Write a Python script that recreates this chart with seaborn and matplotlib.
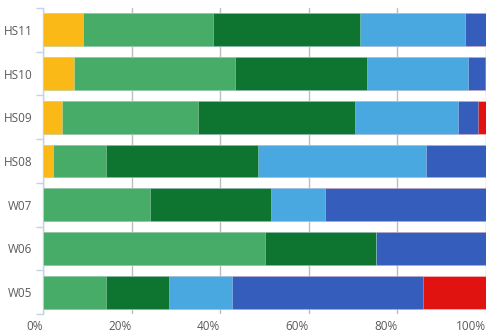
import numpy as np
import pandas as pd
import matplotlib
matplotlib.use("Agg")
import matplotlib.pyplot as plt
import seaborn as sns

# Share of each group per release (percent)
releases = ["HS11", "HS10", "HS09", "HS08", "W07", "W06", "W05"]
group_a = [9.0, 6.9, 4.2, 2.3, 0.0, 0.0, 0.0]
group_b = [29.3, 36.4, 30.9, 11.9, 24.2, 50.0, 14.2]
group_c = [33.3, 29.8, 35.3, 34.4, 27.2, 25.1, 14.2]
group_d = [23.6, 22.9, 23.2, 37.8, 12.2, 0.0, 14.3]
group_e = [4.8, 3.7, 4.5, 13.6, 36.4, 24.9, 43.0]
group_f = [0.0, 0.3, 1.9, 0.0, 0.0, 0.0, 14.3]

series_names = ["A", "B", "C", "D", "E", "F"]
series_values = [group_a, group_b, group_c, group_d, group_e, group_f]
colors = ["#FBB917", "#46AC67", "#0D752F", "#4AA8E0", "#345DBC", "#E11311"]
x_ticks = [0, 20, 40, 60, 80, 100]

df = pd.DataFrame({"release": releases})
for name, vals in zip(series_names, series_values):
    df[name] = vals
cum = df[series_names].cumsum(axis=1)

sns.set_theme(style="white")
plt.rcParams["font.family"] = ["Open Sans", "DejaVu Sans"]

fig = plt.figure(figsize=(4.95, 3.33), dpi=100)
ax = fig.add_axes([43 / 495, 19 / 333, 443 / 495, 306 / 333])

# stacked bars: draw cumulative totals from the outermost segment inwards
for name, color in reversed(list(zip(series_names, colors))):
    sns.barplot(
        x=cum[name], y=df["release"], order=releases, orient="h",
        color=color, width=0.75, ax=ax, saturation=1,
        edgecolor=(1, 1, 1, 0.35), linewidth=0.6, zorder=3,
    )

ax.set_xlim(0, 100)
ax.set_ylim(len(releases) - 0.5, -0.5)
ax.set_xlabel("")
ax.set_ylabel("")

ax.set_xticks(x_ticks)
ax.set_xticklabels([f"{t}%" for t in x_ticks], ha="right")
ax.xaxis.grid(True, color="#BDBDBD", linewidth=1.0, zorder=0)
ax.yaxis.grid(False)
ax.set_axisbelow(True)

for side in ["top", "right", "bottom"]:
    ax.spines[side].set_visible(False)
ax.spines["left"].set_color("#C5D3E3")
ax.spines["left"].set_linewidth(1.0)

ax.set_yticks(np.arange(-0.5, len(releases), 1.0), minor=True)
ax.tick_params(axis="y", which="minor", length=5, width=1.0, color="#C5D3E3", left=True)
ax.tick_params(axis="y", which="major", length=0, pad=7.5, labelsize=8.5, labelcolor="#5A5A5A")
ax.tick_params(axis="x", which="major", length=0, pad=4.5, labelsize=8.5, labelcolor="#5A5A5A")

fig.savefig("out.png", dpi=100)
